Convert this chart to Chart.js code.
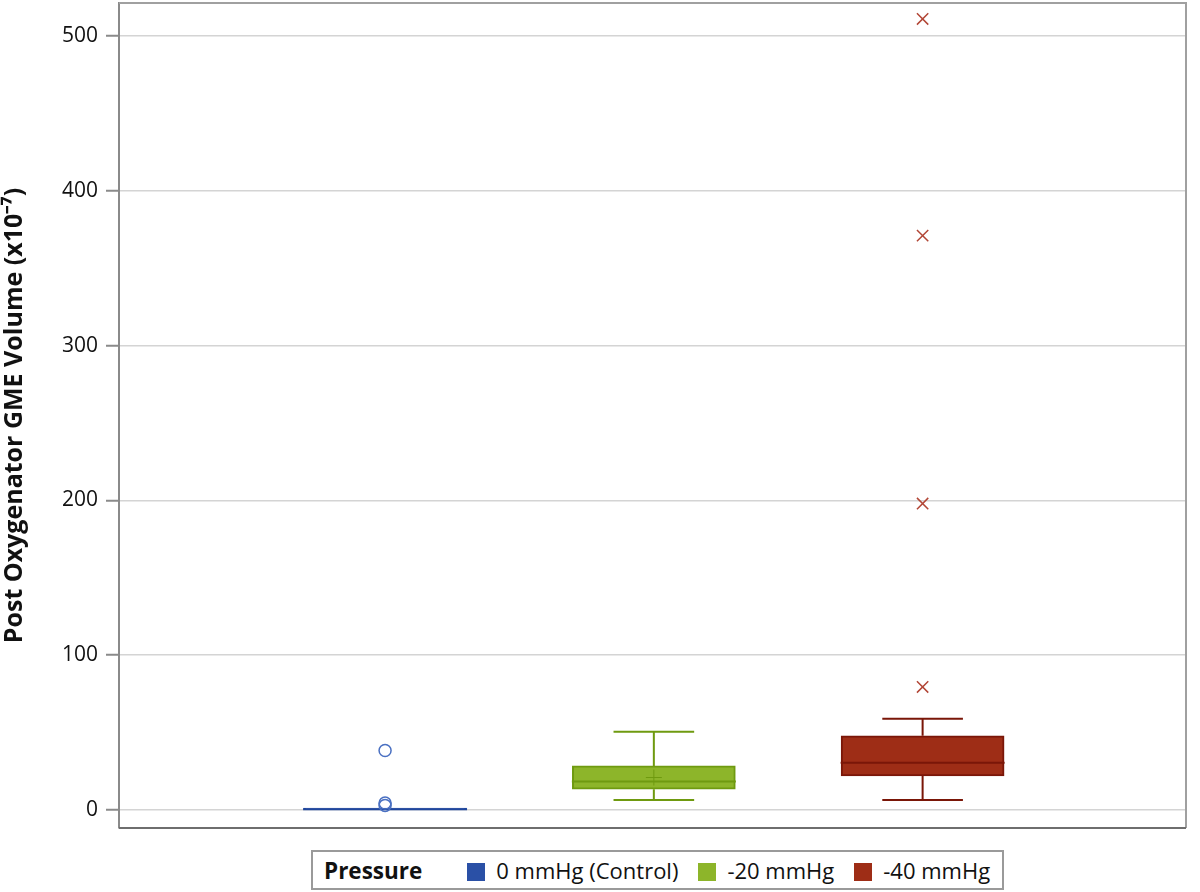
<!DOCTYPE html>
<html lang="en">
<head>
<meta charset="utf-8">
<title>Post Oxygenator GME Volume</title>
<script src="https://cdn.jsdelivr.net/npm/chart.js@4.4.0/dist/chart.umd.min.js"></script>
<style>
  body { margin: 0; background: #fff; font-family: "Open Sans", "Noto Sans", sans-serif; }
  #wrap { position: relative; width: 1200px; height: 840px; }
  #legend {
    position: absolute; left: 311px; top: 850px; height: 40px;
    border: 2px solid #9a9a9a; box-sizing: border-box; padding-right: 12px;
    display: flex; align-items: center; font-size: 22px; color: #111; white-space: nowrap;
  }
  #legend b { margin-left: 11px; margin-right: 45px; font-size: 22.5px; }
  #legend .sw { display: inline-block; width: 18px; height: 18px; margin-right: 11px; margin-top: 4px; }
  #legend .it { display: flex; align-items: center; margin-right: 20px; }
  #legend .it:last-child { margin-right: 0; }
</style>
</head>
<body>
<div id="wrap"><canvas id="boxChart"></canvas></div>
<div id="legend"></div>

<script>
// groups and box-plot stats
var groups = ['0 mmHg (Control)', '-20 mmHg', '-40 mmHg'];
var groupX = [1, 2, 3];
var whiskLow = [0, 6.5, 6.5];
var q1 = [0, 13.5, 22];
var median = [0.5, 18.5, 30.5];
var q3 = [1.2, 28.5, 48];
var whiskHigh = [1.2, 50.5, 59];
var means = [null, 21, null];
var outliersControl = [38.5, 4.5, 3];
var outliers40 = [79.5, 198, 371, 511];
var yTicks = [0, 100, 200, 300, 400, 500];

var fills = ['#2a50a6', '#8db52a', '#9e2d16'];
var lines = ['#1f469c', '#6f9a10', '#7a1608'];

var datasets = [];

// boxes as floating bars
groups.forEach(function(g, i) {
  datasets.push({
    type: 'bar',
    label: g,
    data: [{ x: groupX[i], y: [q1[i], q3[i]] }],
    backgroundColor: fills[i],
    borderColor: lines[i],
    borderWidth: 2,
    borderSkipped: false,
    barThickness: 163,
    grouped: false,
    order: 2
  });
});

// whiskers, caps and median lines
var halfBox = 0.305, halfCap = 0.15;
groups.forEach(function(g, i) {
  var x = groupX[i];
  var pts = [
    { x: x, y: whiskLow[i] }, { x: x, y: q1[i] }, { x: x, y: null },
    { x: x, y: q3[i] }, { x: x, y: whiskHigh[i] }, { x: x, y: null },
    { x: x - halfCap, y: whiskLow[i] }, { x: x + halfCap, y: whiskLow[i] }, { x: x, y: null },
    { x: x - halfCap, y: whiskHigh[i] }, { x: x + halfCap, y: whiskHigh[i] }, { x: x, y: null },
    { x: x - halfBox, y: median[i] }, { x: x + halfBox, y: median[i] }
  ];
  if (i === 0) pts = [{ x: x - halfBox, y: median[i] }, { x: x + halfBox, y: median[i] }];
  datasets.push({
    type: 'line',
    data: pts,
    borderColor: lines[i],
    borderWidth: 2,
    pointRadius: 0,
    spanGaps: false,
    order: 1
  });
});

// mean marker
datasets.push({
  type: 'scatter',
  data: groupX.map(function(x, i) { return { x: x, y: means[i] }; }),
  pointStyle: 'cross',
  pointRadius: 8,
  borderColor: '#6f9a10',
  borderWidth: 1,
  order: 0
});

// outliers
datasets.push({
  type: 'scatter',
  data: outliersControl.map(function(v) { return { x: groupX[0], y: v }; }),
  pointStyle: 'circle',
  pointRadius: 6,
  backgroundColor: 'rgba(255,255,255,0)',
  borderColor: '#4a70c2',
  borderWidth: 1.5,
  order: 0
});
datasets.push({
  type: 'scatter',
  data: outliers40.map(function(v) { return { x: groupX[2], y: v }; }),
  pointStyle: 'crossRot',
  pointRadius: 8,
  borderColor: '#b24636',
  borderWidth: 1.5,
  order: 0
});

// plot frame
var framePlugin = {
  id: 'frame',
  afterDraw: function(chart) {
    var a = chart.chartArea, c = chart.ctx;
    c.save();
    c.strokeStyle = '#a0a0a0';
    c.lineWidth = 2;
    c.beginPath();
    c.moveTo(a.left, a.top); c.lineTo(a.right, a.top); c.lineTo(a.right, a.bottom);
    c.stroke();
    c.strokeStyle = '#6e6e6e';
    c.beginPath();
    c.moveTo(a.left, a.bottom); c.lineTo(a.right, a.bottom);
    c.stroke();
    c.restore();
  }
};

new Chart(document.getElementById('boxChart'), {
  data: { datasets: datasets },
  options: {
    responsive: true,
    maintainAspectRatio: false,
    animation: false,
    layout: { autoPadding: false, padding: { top: 3, right: 14, left: 0, bottom: 12 } },
    plugins: { legend: { display: false }, tooltip: { enabled: false } },
    scales: {
      x: {
        type: 'linear',
        min: 0.01,
        max: 3.98,
        offset: false,
        display: false
      },
      y: {
        min: -11.6,
        max: 521.3,
        afterBuildTicks: function(scale) {
          scale.ticks = yTicks.map(function(v) { return { value: v }; });
        },
        afterFit: function(scale) {
          scale.width = 119;
          scale.paddingTop = 0;
          scale.paddingBottom = 0;
        },
        grid: { color: '#d4d4d4', lineWidth: 1.5, tickLength: 13, tickColor: '#8a8a8a', tickWidth: 2 },
        border: { color: '#8a8a8a', width: 2 },
        ticks: { color: '#111', padding: 8, font: { family: 'Open Sans', size: 21 } },
        title: {
          display: true,
          text: 'Post Oxygenator GME Volume (x10\u207B\u2077)',
          color: '#111',
          padding: { top: 0, bottom: 0 },
          font: { family: 'Open Sans', size: 25, weight: 'bold' }
        }
      }
    }
  },
  plugins: [framePlugin]
});

// legend
var lg = document.getElementById('legend');
var html = '<b>Pressure</b>';
groups.forEach(function(g, i) {
  html += '<span class="it"><span class="sw" style="background:' + fills[i] + '"></span>' + g + '</span>';
});
lg.innerHTML = html;
</script>
</body>
</html>
